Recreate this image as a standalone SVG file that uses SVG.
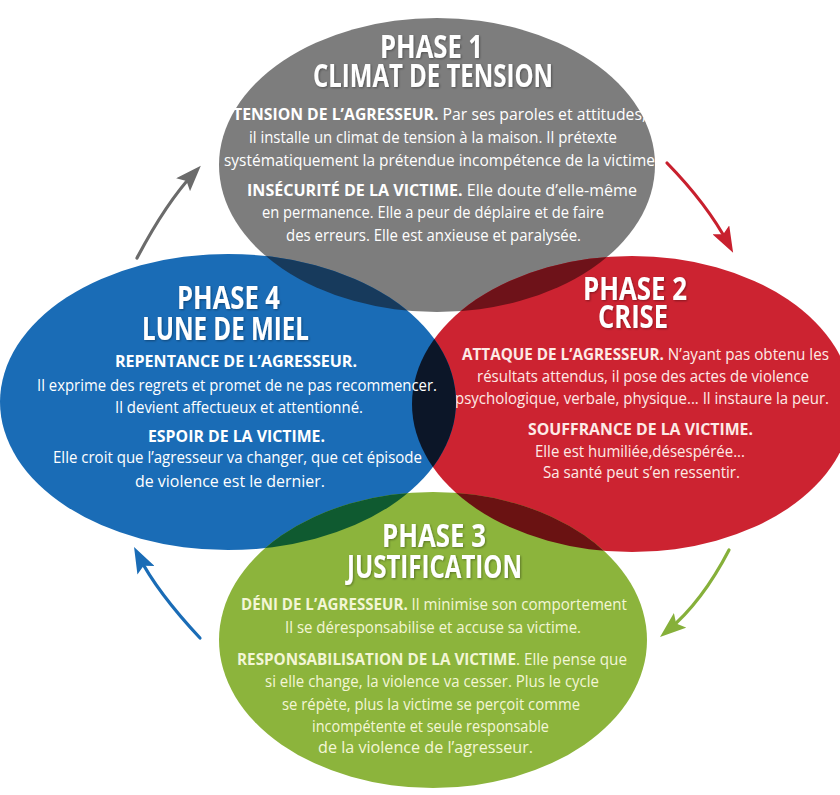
<svg xmlns="http://www.w3.org/2000/svg" width="840" height="795" viewBox="0 0 840 795">
<style>
.t{font-family:"Open Sans","Noto Sans",sans-serif;font-weight:700;font-size:32px;fill:#ffffff;text-anchor:middle}
.b{font-family:"Open Sans","Noto Sans",sans-serif;font-weight:400;font-size:15.5px;text-anchor:middle}
.h{font-weight:700}
.cg{fill:#ffffff}
.cr{fill:#fdeae6}
.cb{fill:#ffffff}
.cv{fill:#f3f6d6}
.arr{fill:none;stroke-width:3.2;stroke-linecap:round}
</style>
<defs>
<ellipse id="eg" cx="437" cy="165" rx="218" ry="147"/>
<ellipse id="er" cx="632" cy="404" rx="220" ry="148"/>
<ellipse id="eb" cx="228" cy="402" rx="228" ry="148"/>
<ellipse id="ev" cx="433" cy="640" rx="214" ry="148"/>
<clipPath id="cpg"><use href="#eg"/></clipPath>
<clipPath id="cpr"><use href="#er"/></clipPath>
<clipPath id="cpb"><use href="#eb"/></clipPath>
<filter id="sh" x="-10%" y="-20%" width="120%" height="140%"><feDropShadow dx="1" dy="1" stdDeviation="1" flood-color="#000" flood-opacity="0.35"/></filter>
<marker id="mg" viewBox="0 0 26 19" markerUnits="userSpaceOnUse" markerWidth="26" markerHeight="19" refX="16" refY="9.5" orient="auto"><path d="M0,0 L26,9.5 L0,19 L5,9.5 z" fill="#6b6b6b"/></marker>
<marker id="mr" viewBox="0 0 26 19" markerUnits="userSpaceOnUse" markerWidth="26" markerHeight="19" refX="16" refY="9.5" orient="auto"><path d="M0,0 L26,9.5 L0,19 L5,9.5 z" fill="#c8202e"/></marker>
<marker id="mv" viewBox="0 0 26 19" markerUnits="userSpaceOnUse" markerWidth="26" markerHeight="19" refX="16" refY="9.5" orient="auto"><path d="M0,0 L26,9.5 L0,19 L5,9.5 z" fill="#86b03a"/></marker>
<marker id="mb" viewBox="0 0 26 19" markerUnits="userSpaceOnUse" markerWidth="26" markerHeight="19" refX="16" refY="9.5" orient="auto"><path d="M0,0 L26,9.5 L0,19 L5,9.5 z" fill="#1a6cb6"/></marker>
</defs>
<rect width="840" height="795" fill="#ffffff"/>

<g id="phase1">
<use href="#eg" fill="#7d7d7d"/>
<text class="t" filter="url(#sh)"><tspan x="431.5" y="57.7" textLength="103" lengthAdjust="spacingAndGlyphs">PHASE 1</tspan><tspan x="433" y="86.7" textLength="240" lengthAdjust="spacingAndGlyphs">CLIMAT DE TENSION</tspan></text>
<text class="b cg" x="439.5" y="120" textLength="413" lengthAdjust="spacingAndGlyphs"><tspan class="h">TENSION DE L’AGRESSEUR.</tspan> Par ses paroles et attitudes,</text>
<text class="b cg" x="433" y="143" textLength="368" lengthAdjust="spacingAndGlyphs">il installe un climat de tension à la maison. Il prétexte</text>
<text class="b cg" x="441.5" y="165.7" textLength="435" lengthAdjust="spacingAndGlyphs">systématiquement la prétendue incompétence de la victime.</text>
<text class="b cg" x="442" y="195.7" textLength="390" lengthAdjust="spacingAndGlyphs"><tspan class="h">INSÉCURITÉ DE LA VICTIME.</tspan> Elle doute d’elle-même</text>
<text class="b cg" x="433" y="217.7" textLength="342" lengthAdjust="spacingAndGlyphs">en permanence. Elle a peur de déplaire et de faire</text>
<text class="b cg" x="433.5" y="241" textLength="295" lengthAdjust="spacingAndGlyphs">des erreurs. Elle est anxieuse et paralysée.</text>
</g>

<g id="phase2">
<use href="#er" fill="#cc2331"/>
<use href="#er" fill="#6e1219" clip-path="url(#cpg)"/>
<text class="t" filter="url(#sh)"><tspan x="635" y="300" textLength="104" lengthAdjust="spacingAndGlyphs">PHASE 2</tspan><tspan x="633" y="328" textLength="70" lengthAdjust="spacingAndGlyphs">CRISE</tspan></text>
<text class="b cr" x="645.5" y="360" textLength="367" lengthAdjust="spacingAndGlyphs"><tspan class="h">ATTAQUE DE L’AGRESSEUR.</tspan> N’ayant pas obtenu les</text>
<text class="b cr" x="643" y="381.7" textLength="332" lengthAdjust="spacingAndGlyphs">résultats attendus, il pose des actes de violence</text>
<text class="b cr" x="642" y="404" textLength="374" lengthAdjust="spacingAndGlyphs">psychologique, verbale, physique... Il instaure la peur.</text>
<text class="b cr h" x="640.5" y="435" textLength="225" lengthAdjust="spacingAndGlyphs">SOUFFRANCE DE LA VICTIME.</text>
<text class="b cr" x="640" y="456.7" textLength="210" lengthAdjust="spacingAndGlyphs">Elle est humiliée,désespérée...</text>
<text class="b cr" x="641.5" y="478" textLength="197" lengthAdjust="spacingAndGlyphs">Sa santé peut s’en ressentir.</text>
</g>

<g id="phase4">
<use href="#eb" fill="#1a6cb6"/>
<use href="#eb" fill="#173a5c" clip-path="url(#cpg)"/>
<use href="#eb" fill="#0c1628" clip-path="url(#cpr)"/>
<text class="t" filter="url(#sh)"><tspan x="228.5" y="309" textLength="103" lengthAdjust="spacingAndGlyphs">PHASE 4</tspan><tspan x="225.5" y="340" textLength="167" lengthAdjust="spacingAndGlyphs">LUNE DE MIEL</tspan></text>
<text class="b cb h" x="236" y="366.7" textLength="242" lengthAdjust="spacingAndGlyphs">REPENTANCE DE L’AGRESSEUR.</text>
<text class="b cb" x="237" y="391" textLength="400" lengthAdjust="spacingAndGlyphs">Il exprime des regrets et promet de ne pas recommencer.</text>
<text class="b cb" x="239" y="413" textLength="248" lengthAdjust="spacingAndGlyphs">Il devient affectueux et attentionné.</text>
<text class="b cb h" x="236.5" y="441.7" textLength="177" lengthAdjust="spacingAndGlyphs">ESPOIR DE LA VICTIME.</text>
<text class="b cb" x="237.5" y="463" textLength="369" lengthAdjust="spacingAndGlyphs">Elle croit que l’agresseur va changer, que cet épisode</text>
<text class="b cb" x="230" y="486.7" textLength="190" lengthAdjust="spacingAndGlyphs">de violence est le dernier.</text>
</g>

<g id="phase3">
<use href="#ev" fill="#8cb43c"/>
<use href="#ev" fill="#0f5a30" clip-path="url(#cpb)"/>
<use href="#ev" fill="#6a1212" clip-path="url(#cpr)"/>
<text class="t" filter="url(#sh)"><tspan x="434" y="546.7" textLength="104" lengthAdjust="spacingAndGlyphs">PHASE 3</tspan><tspan x="434.5" y="578.3" textLength="175" lengthAdjust="spacingAndGlyphs">JUSTIFICATION</tspan></text>
<text class="b cv" x="434" y="610" textLength="386" lengthAdjust="spacingAndGlyphs"><tspan class="h">DÉNI DE L’AGRESSEUR.</tspan> Il minimise son comportement</text>
<text class="b cv" x="433" y="632.7" textLength="296" lengthAdjust="spacingAndGlyphs">Il se déresponsabilise et accuse sa victime.</text>
<text class="b cv" x="432" y="665" textLength="390" lengthAdjust="spacingAndGlyphs"><tspan class="h">RESPONSABILISATION DE LA VICTIME</tspan>. Elle pense que</text>
<text class="b cv" x="432" y="686.7" textLength="334" lengthAdjust="spacingAndGlyphs">si elle change, la violence va cesser. Plus le cycle</text>
<text class="b cv" x="431" y="710" textLength="298" lengthAdjust="spacingAndGlyphs">se répète, plus la victime se perçoit comme</text>
<text class="b cv" x="430.5" y="731.7" textLength="237" lengthAdjust="spacingAndGlyphs">incompétente et seule responsable</text>
<text class="b cv" x="425.5" y="753.3" textLength="215" lengthAdjust="spacingAndGlyphs">de la violence de l’agresseur.</text>
</g>

<g id="connectors">
<path class="arr" stroke="#6b6b6b" d="M137,258 Q166,203 194,173" marker-end="url(#mg)"/>
<path class="arr" stroke="#c8202e" d="M667,163 Q707,204 728.4,244" marker-end="url(#mr)"/>
<path class="arr" stroke="#86b03a" d="M729,550 Q702,602 667.7,630.6" marker-end="url(#mv)"/>
<path class="arr" stroke="#1a6cb6" d="M200,638 Q157,592 138.6,556" marker-end="url(#mb)"/>
</g>
</svg>
